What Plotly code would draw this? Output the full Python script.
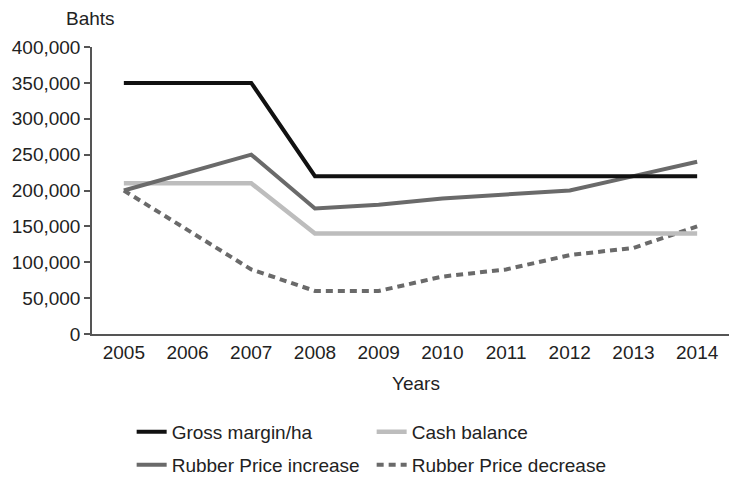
"""
Cenários de margem bruta e saldo de caixa (Bahts) - 2005 a 2014
"""

import plotly.graph_objects as go

# Dados
years = ['2005', '2006', '2007', '2008', '2009', '2010', '2011', '2012', '2013', '2014']
gross_margin = [350000, 350000, 350000, 220000, 220000, 220000, 220000, 220000, 220000, 220000]
cash_balance = [210000, 210000, 210000, 140000, 140000, 140000, 140000, 140000, 140000, 140000]
price_increase = [200000, 225000, 250000, 175000, 180000, 189000, 195000, 200000, 220000, 240000]
price_decrease = [200000, 145000, 90000, 60000, 60000, 80000, 90000, 110000, 120000, 150000]
y_ticks = [0, 50000, 100000, 150000, 200000, 250000, 300000, 350000, 400000]

FONT = 'Liberation Sans, Arial, sans-serif'
TEXT = '#222222'
AXIS = '#555555'
FS = 19

fig = go.Figure()

# Ordem de desenho: linhas de fundo primeiro
fig.add_trace(go.Scatter(
    x=years, y=price_decrease, mode='lines', name='Rubber Price decrease',
    line=dict(color='#6a6a6a', width=4, dash='7px,5px'), legend='legend2',
))
fig.add_trace(go.Scatter(
    x=years, y=cash_balance, mode='lines', name='Cash balance',
    line=dict(color='#bdbdbd', width=4.5), legend='legend',
))
fig.add_trace(go.Scatter(
    x=years, y=price_increase, mode='lines', name='Rubber Price increase',
    line=dict(color='#6a6a6a', width=4), legend='legend2',
))
fig.add_trace(go.Scatter(
    x=years, y=gross_margin, mode='lines', name='Gross margin/ha',
    line=dict(color='#111111', width=4), legend='legend',
))

# Legendas em coordenadas do container para não empurrar as margens
legend_common = dict(
    orientation='h', xanchor='left', yanchor='middle',
    xref='container', yref='container',
    font=dict(family=FONT, size=FS, color=TEXT),
    entrywidth=195, entrywidthmode='pixels',
    traceorder='reversed', bgcolor='rgba(0,0,0,0)', itemwidth=30,
)

fig.update_layout(
    width=729, height=479,
    margin=dict(l=92, r=0, t=47, b=145),
    paper_bgcolor='white', plot_bgcolor='white',
    font=dict(family=FONT, size=FS, color=TEXT),
    showlegend=True,
    legend=dict(x=0.1806, y=1 - 432 / 479, **legend_common),
    legend2=dict(x=0.1806, y=1 - 465 / 479, **legend_common),
    xaxis=dict(
        type='category', range=[-0.5, 9.5],
        showline=True, linecolor=AXIS, linewidth=1.5,
        ticks='', showgrid=False, zeroline=False,
        tickfont=dict(size=FS, color=TEXT),
    ),
    yaxis=dict(
        range=[0, 400000], tickvals=y_ticks, tickformat=',d',
        showline=True, linecolor=AXIS, linewidth=1.5,
        ticks='outside', ticklen=6, tickcolor=AXIS, tickwidth=1.5,
        showgrid=False, zeroline=False,
        tickfont=dict(size=FS, color=TEXT),
    ),
    annotations=[
        dict(text='Bahts', xref='paper', yref='paper', x=-0.003, y=1.101,
             showarrow=False, xanchor='center', yanchor='middle',
             font=dict(size=FS, color=TEXT)),
        dict(text='Years', xref='paper', yref='paper', x=0.508, y=-0.171,
             showarrow=False, xanchor='center', yanchor='middle',
             font=dict(size=FS, color=TEXT)),
    ],
)

# remove a margem padrão do <body> para alinhar a figura ao canto da página
fig.write_html("out.html", config={'displayModeBar': False},
               post_script="document.body.style.margin='0';")
